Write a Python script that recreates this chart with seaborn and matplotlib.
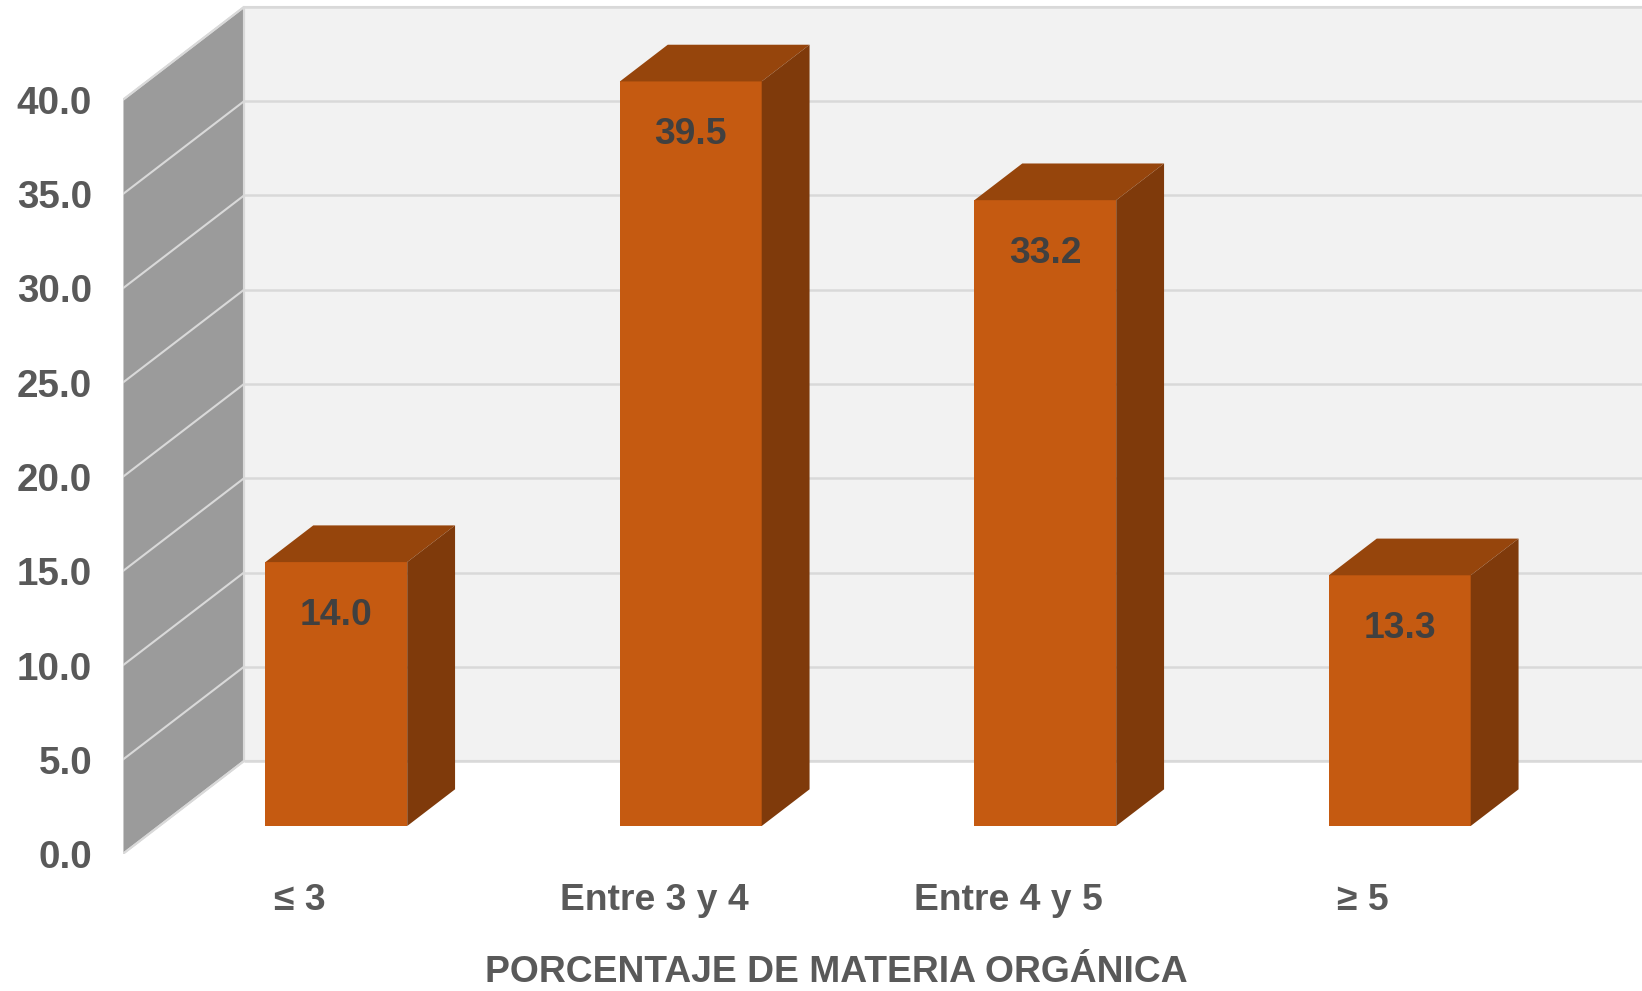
import matplotlib
matplotlib.use("Agg")
import matplotlib.pyplot as plt
from matplotlib.patches import Polygon
import seaborn as sns

# ---- data ----
categories = ["≤ 3", "Entre 3 y 4", "Entre 4 y 5", "≥ 5"]
values = [14.0, 39.5, 33.2, 13.3]
y_ticks = [0, 5, 10, 15, 20, 25, 30, 35, 40]
x_title = "PORCENTAJE DE MATERIA ORGÁNICA"

# ---- colours ----
FRONT = "#C55A11"
TOP = "#96450C"
SIDE = "#7F3A0B"
WALL_SIDE = "#9B9B9B"
WALL_BACK = "#F2F2F2"
GRID = "#D9D9D9"
TICK_TXT = "#595959"
VALUE_TXT = "#404040"

sns.set_theme(style="white")
plt.rcParams["font.family"] = ["Liberation Sans", "DejaVu Sans"]
plt.rcParams["font.weight"] = "bold"

W, H = 1642, 991
fig = plt.figure(figsize=(W / 100, H / 100), dpi=100)
fig.patch.set_facecolor("white")

# pixel geometry of the oblique projection
BAR0_PX = 336.3      # centre of first bar front face
STEP_PX = 354.5      # distance between categories
ZERO_PX = 826.0      # baseline of bar fronts
UNIT_PX = 18.85      # pixels per value unit
SLANT = 1.304        # horizontal px per vertical px of depth
AX_L, AX_R, AX_T, AX_B = 122.7, W, 5.0, 854.0

ax = fig.add_axes([AX_L / W, 1 - AX_B / H, (AX_R - AX_L) / W, (AX_B - AX_T) / H])
ax.set_facecolor("none")

xlim = ((AX_L - BAR0_PX) / STEP_PX, (AX_R - BAR0_PX) / STEP_PX)
ylim = ((ZERO_PX - AX_B) / UNIT_PX, (ZERO_PX - AX_T) / UNIT_PX)


def depth(px_up):
    """Data-space shift for a depth of px_up pixels upward."""
    return px_up * SLANT / STEP_PX, px_up / UNIT_PX


front_dx, front_dy = depth(-28.0)   # plane of the value axis
back_dx, back_dy = depth(65.0)      # back wall plane
bar_dx, bar_dy = depth(36.7)        # bar thickness

x_left = xlim[0]
x_back = x_left + (back_dx - front_dx)
ymax = max(y_ticks)

# back wall
ax.add_patch(Polygon([(x_back, back_dy), (xlim[1] + 1, back_dy),
                      (xlim[1] + 1, back_dy + ymax), (x_back, back_dy + ymax)],
                     closed=True, facecolor=WALL_BACK, edgecolor=GRID,
                     linewidth=1.5, zorder=0.5))
# side wall
ax.add_patch(Polygon([(x_left, front_dy), (x_left, front_dy + ymax),
                      (x_back, back_dy + ymax), (x_back, back_dy)],
                     closed=True, facecolor=WALL_SIDE, edgecolor=GRID,
                     linewidth=1.5, zorder=0.6))
# gridlines on both walls
for v in y_ticks:
    ax.plot([x_back, xlim[1] + 1], [back_dy + v, back_dy + v],
            color=GRID, linewidth=1.8, zorder=0.7, solid_capstyle="butt")
    ax.plot([x_left, x_back], [front_dy + v, back_dy + v],
            color=GRID, linewidth=1.5, zorder=0.7)

# bar front faces
sns.barplot(x=categories, y=values, color=FRONT, saturation=1, width=0.40,
            linewidth=0, ax=ax, zorder=3)

bars = ax.containers[0]
for p in bars:
    x0, w, h = p.get_x(), p.get_width(), p.get_height()
    x1 = x0 + w
    ax.add_patch(Polygon([(x0, h), (x1, h), (x1 + bar_dx, h + bar_dy),
                          (x0 + bar_dx, h + bar_dy)],
                         closed=True, facecolor=TOP, edgecolor="none", zorder=3))
    ax.add_patch(Polygon([(x1, 0), (x1 + bar_dx, bar_dy),
                          (x1 + bar_dx, h + bar_dy), (x1, h)],
                         closed=True, facecolor=SIDE, edgecolor="none", zorder=3))

ax.bar_label(bars, fmt="%.1f", padding=-51, color=VALUE_TXT, fontsize=26.8,
             fontweight="bold", zorder=5)

# axes labels placed on the front plane
ax.set_yticks([v + front_dy for v in y_ticks],
              labels=[f"{v:.1f}" for v in y_ticks])
ax.set_xticks([i + front_dx for i in range(len(categories))], labels=categories)
ax.tick_params(axis="both", length=0, labelcolor=TICK_TXT)
ax.tick_params(axis="y", pad=22, labelsize=27.8)
ax.tick_params(axis="x", pad=21, labelsize=26.8)
for lab in ax.get_xticklabels() + ax.get_yticklabels():
    lab.set_fontweight("bold")
ax.set_xlabel(x_title, fontsize=26.8, fontweight="bold", color=TICK_TXT)
ax.xaxis.label.set_verticalalignment("center")
ax.xaxis.set_label_coords(0.47, -(972 - AX_B) / (AX_B - AX_T), transform=ax.transAxes)
ax.set_ylabel("")

sns.despine(ax=ax, left=True, bottom=True)
ax.grid(False)
ax.set_xlim(*xlim)
ax.set_ylim(*ylim)

fig.savefig("out.png", dpi=100, facecolor="white")
